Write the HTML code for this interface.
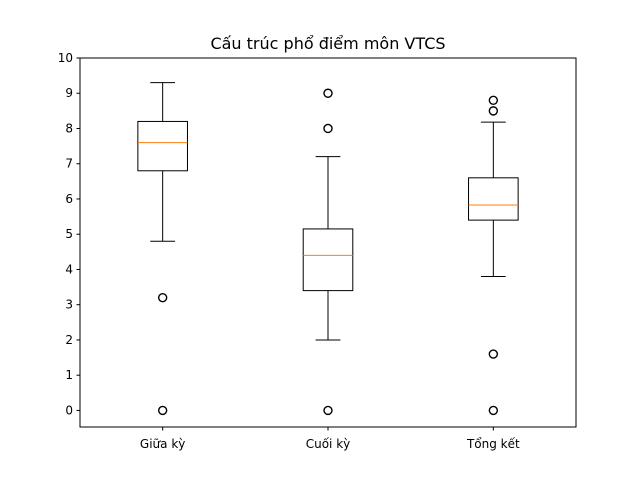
<!DOCTYPE html>
<html><head><meta charset="utf-8"><style>
body{margin:0;background:#fff}
svg text{font-family:"DejaVu Sans","Liberation Sans",sans-serif;fill:#000}
</style></head><body>
<svg id="chart" width="640" height="480" xmlns="http://www.w3.org/2000/svg">
<rect width="640" height="480" fill="#fff"/>
<text x="328" y="49" font-size="16" text-anchor="middle">Cấu trúc phổ điểm môn VTCS</text>
<g id="plot"></g>
<rect x="80" y="58" width="496" height="369" fill="none" stroke="#000" stroke-width="1"/>
</svg>
<script>
const categories=["Giữa kỳ","Cuối kỳ","Tổng kết"];
const q1=[6.8,3.4,5.4];
const medians=[7.6,4.4,5.83];
const q3=[8.2,5.15,6.6];
const whiskLo=[4.8,2.0,3.8];
const whiskHi=[9.3,7.2,8.18];
const fliers=[[3.2,0],[9,8,0],[8.8,8.5,1.6,0]];
const yTicks=[0,1,2,3,4,5,6,7,8,9,10];
const L=80,R=576,T=58,B=427,ymin=-0.47,ymax=10;
const x=v=>L+(v-0.5)/3*(R-L);
const y=v=>B-(v-ymin)/(ymax-ymin)*(B-T);
const g=document.getElementById('plot');
const NS="http://www.w3.org/2000/svg";
function mk(t,a){const e=document.createElementNS(NS,t);for(const k in a)e.setAttribute(k,a[k]);g.appendChild(e);return e;}
yTicks.forEach(t=>{
 const l=mk('line',{x1:L-3.5,x2:L,y1:y(t),y2:y(t),stroke:'#000'});
 
 
 const tx=mk('text',{x:L-7,y:y(t)+4,'font-size':12,'text-anchor':'end'});tx.textContent=t;
 
 
});
categories.forEach((c,i)=>{
 const cx=x(i+1),bw=0.15*(R-L)/3,cw=0.075*(R-L)/3;
 const tk=mk('line',{x1:cx,x2:cx,y1:B,y2:B+3.5,stroke:'#000'});
 
 
 const t=mk('text',{x:cx,y:B+21,'font-size':12,'text-anchor':'middle'});t.textContent=c;
 
 
 const w1=mk('line',{x1:cx,x2:cx,y1:y(q1[i]),y2:y(whiskLo[i]),stroke:'#000'});
 
 
 const w2=mk('line',{x1:cx,x2:cx,y1:y(q3[i]),y2:y(whiskHi[i]),stroke:'#000'});
 
 
 [whiskLo[i],whiskHi[i]].forEach(v=>{
  const cp=mk('line',{x1:cx-cw,x2:cx+cw,y1:y(v),y2:y(v),stroke:'#000'});
  
  
 });
 const bx=mk('rect',{x:cx-bw,y:y(q3[i]),width:2*bw,height:y(q1[i])-y(q3[i]),fill:'none',stroke:'#000'});
 
 
 const md=mk('line',{x1:cx-bw,x2:cx+bw,y1:y(medians[i]),y2:y(medians[i]),stroke:'#ff7f0e'});
 
 
 fliers[i].forEach(v=>{
  const f=mk('circle',{cx:cx,cy:y(v),r:4,fill:'none',stroke:'#000','stroke-width':1.4});
  
  
 });
});
</script>
</body></html>
